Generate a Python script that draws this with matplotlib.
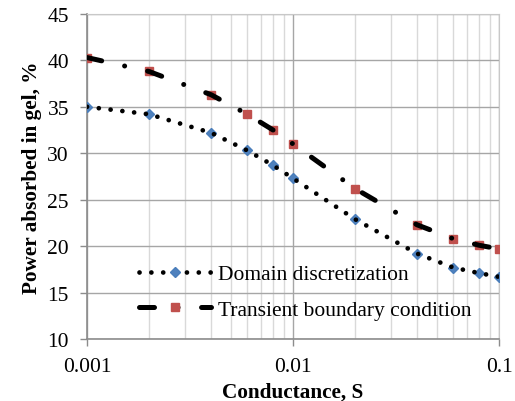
import matplotlib
matplotlib.use("Agg")
import matplotlib.pyplot as plt
from matplotlib.ticker import LogLocator, FixedLocator, NullFormatter

plt.rcParams['font.family'] = ['Liberation Serif', 'DejaVu Serif']

conductance = [0.001, 0.002, 0.004, 0.006, 0.008, 0.01, 0.02, 0.04, 0.06, 0.08, 0.1]
domain = [35.0, 34.2, 32.2, 30.3, 28.7, 27.3, 22.9, 19.2, 17.7, 17.1, 16.7]
transient = [40.3, 38.8, 36.3, 34.2, 32.5, 31.0, 26.2, 22.3, 20.8, 20.1, 19.7]
yticks = [10, 15, 20, 25, 30, 35, 40, 45]
xtick_labels = ["0.001", "0.01", "0.1"]

dot_style = (0, (0.01, 2.5))
dash_style = (0, (3.0, 4.7, 0.01, 4.7))

fig = plt.figure(figsize=(5.15, 4.02), dpi=100)
ax = fig.add_axes([0.169, 0.154, 0.800, 0.809])

# markers underneath, line on top (like Excel)
ax.plot(conductance, domain, linestyle="none", marker="D", markersize=5.5,
        markerfacecolor="#4f81bd", markeredgecolor="#4a7ebb", zorder=3)
ax.plot(conductance, transient, linestyle="none", marker="s", markersize=5.5,
        markerfacecolor="#c0504d", markeredgecolor="#c0504d", zorder=3)
ax.plot(conductance, domain, color="black", linewidth=3.4,
        linestyle=dot_style, dash_capstyle="round", zorder=4)
ax.plot(conductance, transient, color="black", linewidth=3.6,
        linestyle=dash_style, dash_capstyle="round", zorder=4)

# legend proxies with marker in the middle
h1, = ax.plot([], [], color="black", linewidth=3.4, linestyle=dot_style,
              dash_capstyle="round", marker="D", markersize=5.5,
              markerfacecolor="#4f81bd", markeredgecolor="#4a7ebb")
h2, = ax.plot([], [], color="black", linewidth=3.6, linestyle=dash_style,
              dash_capstyle="round", marker="s", markersize=5.5,
              markerfacecolor="#c0504d", markeredgecolor="#c0504d")
ax.legend([h1, h2], ["Domain discretization", "Transient boundary condition"],
          loc="lower left", bbox_to_anchor=(0.10, 0.026), frameon=False,
          fontsize=15.5, handlelength=3.35, handletextpad=0.3, labelspacing=0.72,
          borderpad=0)

ax.set_xscale("log")
ax.set_xlim(0.001, 0.1)
ax.set_ylim(10, 45)
ax.set_yticks(yticks)
ax.xaxis.set_major_locator(FixedLocator([0.001, 0.01, 0.1]))
ax.set_xticklabels(xtick_labels)
ax.xaxis.set_minor_locator(LogLocator(base=10, subs=range(2, 10)))
ax.xaxis.set_minor_formatter(NullFormatter())

ax.grid(True, which="major", color="#a6a6a6", linewidth=1.0)
ax.grid(True, which="minor", axis="x", color="#d9d9d9", linewidth=1.0)
ax.set_axisbelow(True)

for s in ["top", "right"]:
    ax.spines[s].set_color("#c8c8c8")
for s in ["left", "bottom"]:
    ax.spines[s].set_color("#8c8c8c")
    ax.spines[s].set_linewidth(1.2)

ax.tick_params(axis="both", which="major", labelsize=15.5, color="#8c8c8c",
               length=5, width=1)
ax.tick_params(axis="x", which="minor", length=0)
ax.tick_params(axis="x", which="major", pad=8)
ax.tick_params(axis="y", which="major", pad=8)

ax.set_xlabel("Conductance, S", fontsize=15.3, fontweight="bold", labelpad=4)
ax.set_ylabel("Power absorbed in gel, %", fontsize=15.3, fontweight="bold", labelpad=4)

fig.savefig("out.png", dpi=100)
